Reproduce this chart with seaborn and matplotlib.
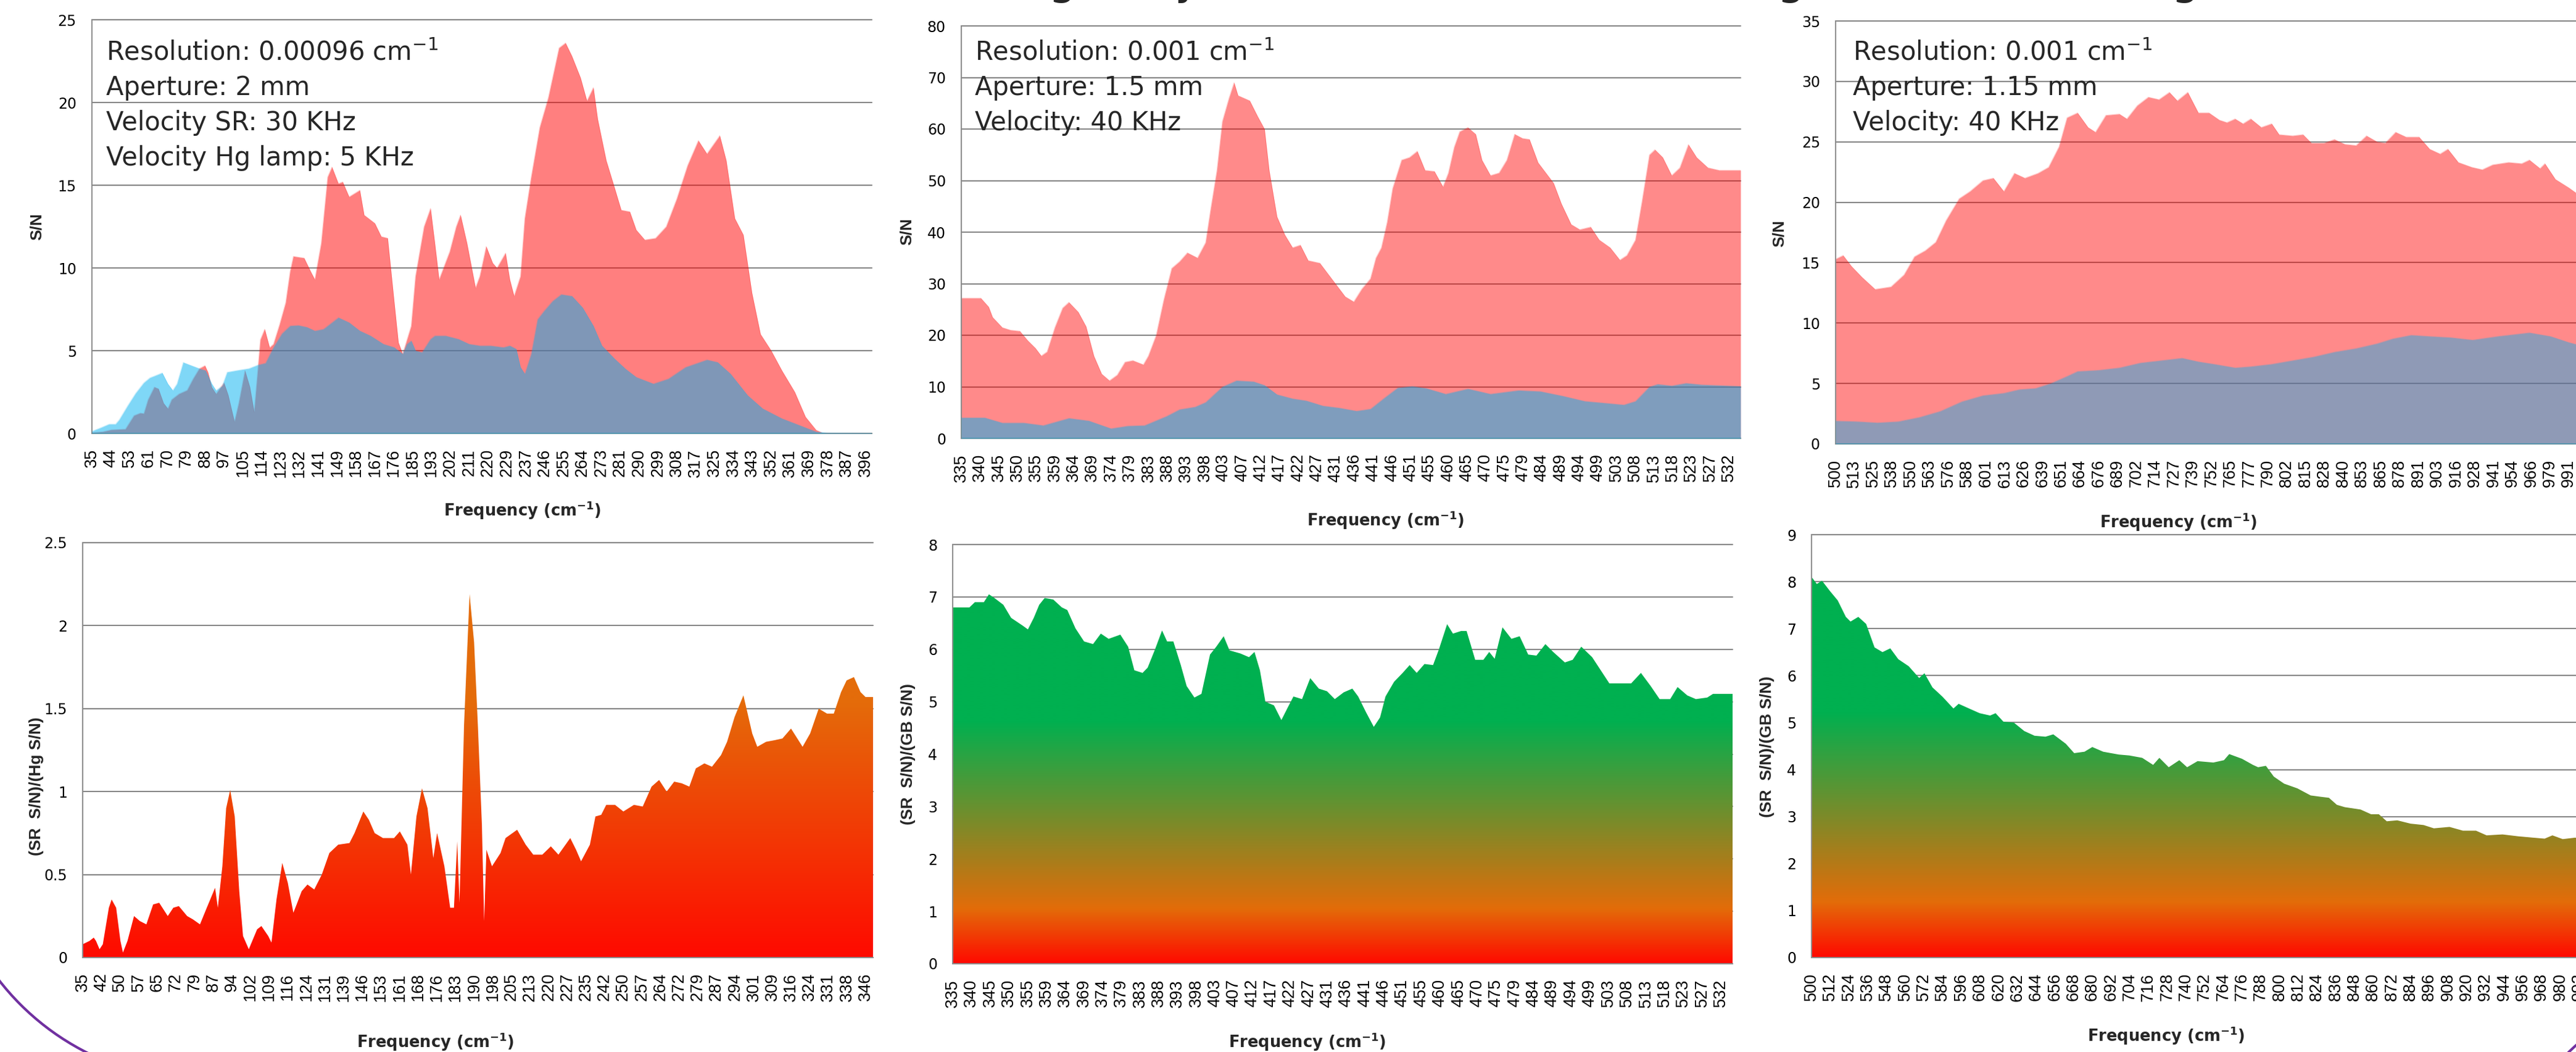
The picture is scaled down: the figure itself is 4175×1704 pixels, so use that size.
import numpy as np
import matplotlib
matplotlib.use("Agg")
import matplotlib.pyplot as plt
from matplotlib.colors import LinearSegmentedColormap
from matplotlib.patches import Arc
import seaborn as sns

# ---- values: (frequency cm-1, value) ----
# top row: S/N of synchrotron (SR) against Hg lamp / globar (GB)
sr_far = [(35, 0.05), (40, 0.1), (44, 0.22), (50.6, 0.26), (54.6, 1.08), (57.5, 1.23), (59.2, 1.2),
          (61.2, 2.05), (64.1, 2.8), (66, 2.7), (68.4, 1.83), (70.4, 1.5), (72.2, 2.05), (75.6, 2.39),
          (79.4, 2.61), (82.2, 3.3), (85.1, 3.92), (87.7, 4.1), (89.1, 3.7), (90.9, 2.8), (92.9, 2.39),
          (94.9, 2.76), (96.6, 3.06), (98.6, 2.31), (101.5, 0.71), (103.5, 1.83), (106.4, 3.8),
          (108.7, 2.8), (110.7, 1.3), (112.2, 3.55), (113.6, 5.67), (115.6, 6.3), (117.9, 5.19),
          (119.7, 5.4), (122.6, 6.6), (125.4, 7.9), (127.5, 9.8), (129, 10.7), (134, 10.6), (137, 9.8),
          (139, 9.3), (142, 11.5), (145, 15.5), (147, 16.1), (150, 15.1), (152, 15.2), (155, 14.3),
          (160, 14.7), (162, 13.2), (167, 12.7), (170, 11.9), (173, 11.8), (176, 8.0), (178, 5.5),
          (180, 4.8), (184, 6.5), (186, 9.5), (190, 12.5), (193, 13.6), (195, 11.5), (197, 9.3),
          (202, 11.0), (205, 12.5), (207, 13.2), (210, 11.5), (214, 8.8), (216, 9.5), (219, 11.3),
          (222, 10.3), (224, 10.0), (228, 10.9), (230, 9.3), (232, 8.3), (235, 9.5), (237, 13.0),
          (240, 15.5), (244, 18.5), (248, 20.3), (253, 23.3), (256, 23.6), (259, 22.8), (263, 21.5),
          (266, 20.1), (269, 20.9), (271, 19.0), (275, 16.5), (279, 14.8), (282, 13.5), (286, 13.4),
          (289, 12.3), (293, 11.7), (298, 11.8), (303, 12.5), (308, 14.2), (313, 16.2), (318, 17.7),
          (322, 16.9), (328, 18.0), (331, 16.5), (335, 13.0), (339, 12.0), (343, 8.5), (347, 6.0),
          (352, 5.0), (357, 3.8), (363, 2.5), (368, 1.0), (373, 0.2), (376, 0.03), (380, 0.02), (399, 0.02)]
hg_far = [(35, 0.05), (35.3, 0.15), (39, 0.34), (43, 0.56), (46, 0.56), (47.7, 0.82), (51.7, 1.68),
          (55.4, 2.43), (59.2, 3.06), (62, 3.36), (67.8, 3.66), (70.4, 3.0), (72.7, 2.6), (74.7, 3.0),
          (77.6, 4.29), (81.4, 4.1), (85.1, 3.92), (88, 3.8), (90.9, 3.0), (92.9, 2.6), (95.8, 2.87),
          (98.1, 3.7), (102.4, 3.8), (108.2, 3.92), (112.5, 4.14), (116, 4.25), (119.7, 5.2),
          (123.7, 6.04), (127.5, 6.5), (131.3, 6.53), (135.3, 6.42), (139, 6.2), (143, 6.3), (150, 7.0),
          (155, 6.7), (160, 6.2), (165, 5.9), (171, 5.4), (176, 5.2), (180, 4.8), (182, 5.4), (184, 5.6),
          (186, 5.0), (189, 4.9), (193, 5.7), (195, 5.9), (200, 5.9), (206, 5.7), (211, 5.4), (216, 5.3),
          (221, 5.3), (227, 5.2), (230, 5.3), (233, 5.1), (235, 4.0), (237, 3.6), (240, 4.8), (243, 6.9),
          (246, 7.4), (250, 8.0), (254, 8.4), (259, 8.3), (264, 7.6), (269, 6.5), (273, 5.3), (279, 4.5),
          (284, 3.9), (289, 3.4), (297, 3.0), (304, 3.3), (312, 4.0), (322, 4.45), (327, 4.3), (333, 3.6),
          (341, 2.3), (348, 1.5), (357, 0.9), (365, 0.5), (373, 0.1), (378, 0.03), (399, 0.02)]
sr_mid = [(335, 27.2), (340, 27.2), (342, 25.5), (343, 23.5), (345.5, 21.5), (347.6, 21.0), (350, 20.8),
          (352, 19.0), (354, 17.5), (355.5, 16.0), (357, 16.8), (359, 21.5), (361, 25.3), (362.6, 26.4),
          (365, 24.5), (367, 21.7), (369, 16.0), (371, 12.5), (373, 11.2), (375, 12.3), (377, 14.8),
          (379, 15.1), (381.7, 14.3), (383, 16.0), (385, 20.0), (387, 27.0), (389, 33.0), (391, 34.3),
          (393, 36.0), (395.6, 35.0), (397.7, 38.0), (399, 44.5), (400.6, 52.0), (402, 61.5), (403.7, 66.0),
          (405, 69.0), (406, 66.5), (409, 65.5), (411, 62.5), (412.8, 60.0), (414, 52.0), (416, 43.0),
          (418, 39.5), (420, 37.0), (422, 37.5), (424, 34.5), (427, 34.0), (429, 32.0), (431, 30.0),
          (433.5, 27.5), (435.7, 26.5), (437.8, 29.0), (440, 31.0), (441.4, 35.0), (442.8, 37.0),
          (444.3, 42.0), (445.7, 48.5), (448, 54.0), (450, 54.5), (452, 55.7), (454, 52.0), (456.4, 51.8),
          (458.6, 48.8), (460, 51.5), (461.5, 56.5), (462.9, 59.5), (465, 60.3), (467, 59.0), (468.6, 54.0),
          (470.8, 51.0), (473, 51.5), (475, 54.0), (477, 59.0), (479, 58.2), (480.8, 58.0), (483, 53.5),
          (485, 51.5), (487, 49.5), (489, 45.5), (491.5, 41.5), (493.7, 40.5), (496.5, 41.0), (498.7, 38.5),
          (501.5, 37.0), (504, 34.6), (505.8, 35.5), (508, 38.5), (509.7, 46.0), (511.6, 55.0), (513, 56.0),
          (515, 54.5), (517.3, 51.0), (519.4, 52.5), (521.6, 57.0), (523.7, 54.5), (526.6, 52.5),
          (529.5, 52.0), (535, 52.0)]
gb_mid = [(335, 4.0), (341, 4.0), (345.5, 3.0), (351, 3.0), (356, 2.5), (362.6, 3.9), (367.7, 3.4),
          (373.4, 1.9), (377.7, 2.4), (382, 2.5), (387.7, 4.3), (391, 5.6), (395, 6.1), (397.7, 7.0),
          (402, 10.0), (405.6, 11.2), (410, 11.0), (412.8, 10.3), (416, 8.5), (420, 7.7), (423.5, 7.3),
          (427.8, 6.3), (432, 5.9), (436.4, 5.3), (440, 5.7), (443.5, 7.8), (447, 9.8), (450.7, 10.1),
          (454.3, 9.7), (459.3, 8.6), (465, 9.6), (470.8, 8.6), (478, 9.3), (483.6, 9.1), (489.4, 8.2),
          (495, 7.2), (500.8, 6.8), (505, 6.5), (508, 7.2), (511.6, 10.0), (513.7, 10.5), (517.3, 10.2),
          (521, 10.7), (525, 10.4), (535, 10.1)]
sr_high = [(500, 15.3), (505, 15.6), (510.6, 14.7), (517.6, 13.8), (526.4, 12.8), (537, 13.0), (545.8, 14.0),
           (552.8, 15.5), (560, 16.0), (567, 16.7), (574, 18.5), (582.7, 20.3), (590, 20.9), (598.6, 21.8),
           (605.6, 22.0), (612.6, 20.9), (619.7, 22.4), (626.7, 22.0), (635.5, 22.4), (642.6, 22.9),
           (649.6, 24.6), (655, 27.0), (662, 27.4), (669, 26.2), (674, 25.8), (681, 27.2), (690, 27.3),
           (695, 26.9), (702, 28.0), (709.4, 28.7), (716.5, 28.5), (723.5, 29.1), (728.8, 28.4),
           (735.8, 29.1), (742.9, 27.4), (750, 27.4), (757, 26.8), (762, 26.6), (767.5, 26.9), (772.8, 26.5),
           (778, 26.9), (785, 26.2), (792, 26.5), (797, 25.6), (806, 25.5), (813, 25.6), (818.6, 24.9),
           (827, 24.9), (834, 25.2), (841, 24.8), (848.5, 24.7), (855.5, 25.5), (862.6, 25.0), (868, 24.9),
           (875, 25.8), (882, 25.4), (890.7, 25.4), (897.8, 24.4), (904.8, 24.0), (910, 24.4), (917, 23.3),
           (926, 22.9), (933, 22.7), (940, 23.1), (950.6, 23.3), (959.4, 23.2), (964.6, 23.5), (971.7, 22.8),
           (975, 23.2), (982, 21.9), (991, 21.2), (995.5, 20.8), (1000, 20.6)]
gb_high = [(500, 1.9), (514, 1.85), (528, 1.75), (542, 1.85), (556, 2.2), (570, 2.7), (584.5, 3.5),
           (598.6, 4.0), (612.6, 4.2), (623, 4.5), (633.8, 4.6), (644, 5.0), (655, 5.6), (662, 6.0),
           (676, 6.1), (690, 6.3), (704, 6.7), (718, 6.9), (732, 7.1), (743, 6.8), (753.4, 6.6),
           (767.5, 6.3), (778, 6.4), (792, 6.6), (806, 6.9), (820, 7.2), (834, 7.6), (848.5, 7.9),
           (862.6, 8.3), (873, 8.7), (885.4, 9.0), (897.8, 8.9), (912, 8.8), (926.5, 8.6), (943.5, 8.9),
           (964.6, 9.2), (978.7, 8.9), (991, 8.4), (1000, 8.1)]

# bottom row: ratios SR/Hg and SR/GB
ratio_far = [(35, 0.08), (37.7, 0.1), (39.4, 0.12), (40.3, 0.1), (41.7, 0.05), (43, 0.08), (45.4, 0.3),
             (46.5, 0.35), (48.3, 0.3), (50, 0.1), (51, 0.03), (52.8, 0.1), (55.4, 0.25), (57.7, 0.22),
             (60.3, 0.2), (63, 0.32), (65.4, 0.33), (68.8, 0.25), (71, 0.3), (73.2, 0.31), (76.5, 0.25),
             (78.8, 0.23), (81.6, 0.2), (84.3, 0.3), (86.5, 0.38), (87.6, 0.42), (88.7, 0.3), (90.5, 0.55),
             (92, 0.9), (93.6, 1.01), (95.4, 0.85), (97.2, 0.4), (98.7, 0.13), (101, 0.05), (104.3, 0.17),
             (106, 0.19), (108.7, 0.13), (110, 0.09), (112, 0.35), (114.3, 0.57), (116.5, 0.45),
             (118.7, 0.27), (120, 0.32), (122, 0.4), (124.3, 0.44), (127, 0.41), (130, 0.5), (133, 0.63),
             (136.5, 0.68), (141, 0.69), (143, 0.75), (146.5, 0.88), (148.7, 0.83), (151, 0.75),
             (154.3, 0.72), (158.7, 0.72), (161, 0.76), (164, 0.68), (165.4, 0.5), (167.6, 0.85),
             (169.8, 1.02), (172, 0.9), (174.3, 0.6), (175.8, 0.75), (178.7, 0.55), (181, 0.3), (182.5, 0.3),
             (183.8, 0.7), (184.7, 0.33), (186.5, 1.4), (188.7, 2.19), (190.5, 1.9), (192, 1.4), (193.6, 0.8),
             (194.5, 0.22), (195.4, 0.65), (197.6, 0.55), (201, 0.63), (203, 0.72), (207.6, 0.77), (211, 0.68),
             (214, 0.62), (217.6, 0.62), (221, 0.67), (224, 0.62), (228.7, 0.72), (231, 0.65), (233, 0.58),
             (236.5, 0.68), (238.7, 0.85), (241, 0.86), (243, 0.92), (246.5, 0.92), (249.8, 0.88), (254, 0.92),
             (257.5, 0.91), (261, 1.03), (264, 1.07), (267, 1.0), (270, 1.06), (273, 1.05), (276, 1.03),
             (278.6, 1.14), (282, 1.17), (285, 1.15), (288.6, 1.22), (291, 1.3), (294, 1.45), (297.5, 1.58),
             (301, 1.35), (303, 1.27), (306.5, 1.3), (310, 1.31), (313, 1.32), (316.4, 1.38), (321, 1.27),
             (324, 1.35), (327.4, 1.5), (330.7, 1.47), (333.4, 1.47), (336.3, 1.6), (338.5, 1.67),
             (341.4, 1.69), (344, 1.6), (346, 1.57), (349, 1.57)]
ratio_mid = [(335, 6.8), (339.3, 6.8), (340.7, 6.9), (343, 6.9), (344.3, 7.05), (345.7, 6.98), (348, 6.85),
             (350, 6.6), (353, 6.45), (354.3, 6.38), (355.8, 6.6), (357.2, 6.85), (358.6, 6.98), (360.8, 6.95),
             (363, 6.8), (364.4, 6.75), (366.5, 6.4), (368.7, 6.15), (371, 6.1), (373, 6.3), (375, 6.2),
             (378, 6.28), (380, 6.05), (381.6, 5.6), (383.7, 5.55), (385, 5.65), (386.9, 6.0), (388.7, 6.36),
             (390, 6.15), (391.6, 6.15), (393.5, 5.7), (395, 5.3), (397, 5.08), (398.8, 5.15), (401, 5.9),
             (402.6, 6.05), (404.5, 6.25), (406, 5.98), (408.8, 5.92), (411, 5.85), (412.4, 5.95), (413.8, 5.6),
             (415.2, 5.0), (417.4, 4.93), (419.3, 4.65), (421, 4.9), (422.4, 5.1), (424.6, 5.05), (426.7, 5.45),
             (428.9, 5.25), (431, 5.2), (433, 5.05), (435.3, 5.18), (437.5, 5.25), (439, 5.1), (441, 4.8),
             (443, 4.52), (444.6, 4.7), (446, 5.1), (448.2, 5.38), (450.4, 5.55), (452.2, 5.7), (454, 5.55),
             (456, 5.72), (458.2, 5.7), (459.7, 6.0), (461.8, 6.48), (463.3, 6.3), (465.4, 6.35), (466.8, 6.35),
             (469, 5.8), (471.1, 5.8), (472.6, 5.95), (474, 5.82), (476, 6.42), (478.3, 6.2), (480.4, 6.25),
             (482.6, 5.9), (484.7, 5.88), (487, 6.1), (489, 5.95), (492, 5.75), (494, 5.8), (496.2, 6.05),
             (499, 5.85), (501.2, 5.6), (503.4, 5.35), (506, 5.35), (509, 5.35), (511.5, 5.55), (514, 5.3),
             (516.3, 5.05), (519, 5.05), (520.9, 5.28), (523.4, 5.12), (525.6, 5.05), (528.5, 5.08),
             (530, 5.15), (535, 5.15)]
ratio_high = [(500, 8.1), (503.4, 7.95), (506.7, 8.02), (511.8, 7.8), (516.8, 7.6), (522, 7.25), (525, 7.15),
              (530, 7.25), (535, 7.1), (540.4, 6.6), (545.5, 6.5), (550.5, 6.58), (555.6, 6.35), (562.3, 6.2),
              (569, 5.95), (572.4, 6.05), (577.5, 5.75), (584, 5.55), (591, 5.3), (594.3, 5.4), (601, 5.3),
              (607.8, 5.2), (614.5, 5.15), (618, 5.2), (623, 5.02), (629.7, 5.0), (636.4, 4.82), (643, 4.72),
              (650, 4.7), (655, 4.75), (663, 4.55), (668.4, 4.35), (675, 4.38), (680, 4.48), (687, 4.38),
              (697, 4.32), (703.8, 4.3), (712, 4.25), (719, 4.1), (723, 4.25), (729, 4.05), (735.8, 4.2),
              (740.8, 4.05), (747.5, 4.18), (757.6, 4.15), (764.4, 4.2), (767.8, 4.33), (776, 4.23), (783, 4.1),
              (786.3, 4.05), (791.3, 4.08), (796.4, 3.85), (803, 3.7), (811.5, 3.6), (820, 3.45), (826.7, 3.42),
              (831.7, 3.4), (836.8, 3.25), (841.9, 3.2), (852, 3.15), (858.7, 3.05), (863.7, 3.05), (868.8, 2.9),
              (875.5, 2.92), (884, 2.85), (892.4, 2.82), (899, 2.75), (909, 2.78), (917.6, 2.7), (926, 2.7),
              (932.8, 2.6), (943, 2.62), (953, 2.58), (963, 2.55), (970, 2.53), (975, 2.6), (981.6, 2.52),
              (989.3, 2.55), (1000, 2.55)]

ticks_far_top = [35, 44, 53, 61, 70, 79, 88, 97, 105, 114, 123, 132, 141, 149, 158, 167, 176, 185, 193, 202, 211,
                 220, 229, 237, 246, 255, 264, 273, 281, 290, 299, 308, 317, 325, 334, 343, 352, 361, 369, 378,
                 387, 396]
ticks_mid = [335, 340, 345, 350, 355, 359, 364, 369, 374, 379, 383, 388, 393, 398, 403, 407, 412, 417, 422, 427,
             431, 436, 441, 446, 451, 455, 460, 465, 470, 475, 479, 484, 489, 494, 499, 503, 508, 513, 518, 523,
             527, 532]
ticks_high_top = [500, 513, 525, 538, 550, 563, 576, 588, 601, 613, 626, 639, 651, 664, 676, 689, 702, 714, 727,
                  739, 752, 765, 777, 790, 802, 815, 828, 840, 853, 865, 878, 891, 903, 916, 928, 941, 954, 966,
                  979, 991]
ticks_far_bot = [35, 42, 50, 57, 65, 72, 79, 87, 94, 102, 109, 116, 124, 131, 139, 146, 153, 161, 168, 176, 183,
                 190, 198, 205, 213, 220, 227, 235, 242, 250, 257, 264, 272, 279, 287, 294, 301, 309, 316, 324,
                 331, 338, 346]
ticks_high_bot = [500, 512, 524, 536, 548, 560, 572, 584, 596, 608, 620, 632, 644, 656, 668, 680, 692, 704, 716,
                  728, 740, 752, 764, 776, 788, 800, 812, 824, 836, 848, 860, 872, 884, 896, 908, 920, 932, 944,
                  956, 968, 980, 992]

notes_far = ["Resolution: 0.00096 cm$^{-1}$", "Aperture: 2 mm", "Velocity SR: 30 KHz", "Velocity Hg lamp: 5 KHz"]
notes_mid = ["Resolution: 0.001 cm$^{-1}$", "Aperture: 1.5 mm", "Velocity: 40 KHz"]
notes_high = ["Resolution: 0.001 cm$^{-1}$", "Aperture: 1.15 mm", "Velocity: 40 KHz"]

XLABEL = r"Frequency (cm$^{\mathbf{-1}}$)"

W, H = 4175, 1704
sns.set_theme(style="white")
plt.rcParams["font.family"] = ["DejaVu Sans"]
plt.rcParams["mathtext.fontset"] = "dejavusans"
# rotated labels: the slide is stretched sideways, an Arial-like face fits them better
ROT_FAMILY = ["Liberation Sans", "DejaVu Sans"]

fig = plt.figure(figsize=(W / 100, H / 100), dpi=100)
fig.patch.set_facecolor("white")


def box(l, t, r, b):
    # pixel box (y down) -> figure fraction
    return [l / W, 1 - b / H, (r - l) / W, (b - t) / H]


def style_axes(ax, xlim, ymax, ystep, ticks):
    ax.set_xlim(*xlim)
    ax.set_ylim(0, ymax)
    yt = np.arange(0, ymax + ystep / 2, ystep)
    ax.set_yticks(yt)
    ax.set_yticklabels([f"{v:g}" for v in yt], fontsize=17)
    ax.set_xticks(np.linspace(ticks[0], ticks[-1], len(ticks)))
    ax.set_xticklabels([str(t) for t in ticks], rotation=90, fontsize=19.5, family=ROT_FAMILY)
    ax.tick_params(length=0, pad=18, colors="black")
    ax.set_axisbelow(True)
    ax.yaxis.grid(True, color="#878787", lw=1.5)
    ax.xaxis.grid(False)
    for gl in ax.get_ygridlines():
        gl.set_clip_on(False)
    sns.despine(ax=ax)
    for s in ("left", "bottom"):
        ax.spines[s].set_color("#8c8c8c")
        ax.spines[s].set_linewidth(1.4)
    ax.set_xlabel("")
    ax.set_ylabel("")


def sn_panel(rect, sr, other, xlim, ymax, ystep, ticks, red_alpha=0.5, blue_alpha=0.5):
    ax = fig.add_axes(box(*rect))
    x1, y1 = map(np.array, zip(*sr))
    x2, y2 = map(np.array, zip(*other))
    ax.fill_between(x1, 0, y1, color="#FF0000", alpha=red_alpha, lw=0, zorder=2)
    sns.lineplot(x=x1, y=y1, ax=ax, color="#FF0000", alpha=0.2, lw=0.8, estimator=None, sort=False, zorder=2)
    ax.fill_between(x2, 0, y2, color="#00B0F0", alpha=blue_alpha, lw=0, zorder=3)
    sns.lineplot(x=x2, y=y2, ax=ax, color="#00B0F0", alpha=0.2, lw=0.8, estimator=None, sort=False, zorder=3)
    style_axes(ax, xlim, ymax, ystep, ticks)
    return ax


def ratio_panel(rect, data, xlim, ymax, ystep, ticks, stops):
    ax = fig.add_axes(box(*rect))
    x, y = map(np.array, zip(*data))
    area = ax.fill_between(x, 0, y, color="none", lw=0)
    cmap = LinearSegmentedColormap.from_list("fade", stops)
    grad = np.linspace(0, 1, 512).reshape(-1, 1)
    im = ax.imshow(grad, cmap=cmap, origin="lower", aspect="auto",
                   extent=(xlim[0], xlim[1], 0, ymax), zorder=2, interpolation="bilinear")
    im.set_clip_path(area.get_paths()[0], transform=ax.transData)
    style_axes(ax, xlim, ymax, ystep, ticks)
    return ax


fade_far = [(0, "#FF0A00"), (0.62, "#E46C0A"), (1, "#E46C0A")]
fade_gb = [(0, "#FF0A00"), (0.13, "#E36C09"), (0.58, "#00B050"), (1, "#00B050")]

# top row
sn_panel((149, 32, 1413, 702), sr_far, hg_far, (35, 399), 25, 5, ticks_far_top)
sn_panel((1558, 42, 2821, 710), sr_mid, gb_mid, (335, 535), 80, 10, ticks_mid, red_alpha=0.46)
sn_panel((2975, 34, 4185, 719), sr_high, gb_high, (500, 1000), 35, 5, ticks_high_top,
         red_alpha=0.46, blue_alpha=0.44)

# bottom row
ratio_panel((134, 879, 1415, 1551), ratio_far, (35, 349), 2.5, 0.5, ticks_far_bot, fade_far)
ratio_panel((1544, 882, 2808, 1561), ratio_mid, (335, 535), 8, 1, ticks_mid, fade_gb)
ratio_panel((2936, 866, 4200, 1551), ratio_high, (500, 1000), 9, 1, ticks_high_bot, fade_gb)


def ftext(x, y, s, **kw):
    fig.text(x / W, 1 - y / H, s, **kw)


for x0, lines in ((172, notes_far), (1580, notes_mid), (3003, notes_high)):
    for i, s in enumerate(lines):
        ftext(x0, 97 + 57 * i, s, fontsize=30, ha="left", va="baseline")

for x, y in ((847, 827), (2246, 843), (3531, 846), (706, 1688), (2119, 1688), (3511, 1678)):
    ftext(x, y, XLABEL, fontsize=18.5, fontweight="bold", ha="center", va="center")

for x, y, s in ((60, 367, "S/N"), (1470, 375, "S/N"), (2884, 378, "S/N"),
                (59, 1274, "(SR  S/N)/(Hg S/N)"), (1472, 1221, "(SR  S/N)/(GB S/N)"),
                (2864, 1209, "(SR  S/N)/(GB S/N)")):
    ftext(x, y, s, fontsize=19, fontweight="bold", ha="center", va="center",
          rotation=90, family=ROT_FAMILY)

# slide title cut off at the top edge: only descenders remain
for x, ch in ((1722, "g"), (1925, "y"), (2903, "g"), (3542, "g")):
    ftext(x, -10, ch, fontsize=52, ha="center", va="baseline")

# purple slide decoration peeking out at the corners
deco = fig.add_axes([0, 0, 1, 1], zorder=-5)
deco.set_xlim(0, W)
deco.set_ylim(0, H)
deco.axis("off")
deco.add_patch(Arc((330, H - 1330), 840, 840, theta1=195, theta2=255, color="#7030A0", lw=3))
deco.add_patch(Arc((4450, H - 2000), 824, 824, theta1=120, theta2=150, color="#7030A0", lw=3))

fig.savefig("out.png", dpi=100)
